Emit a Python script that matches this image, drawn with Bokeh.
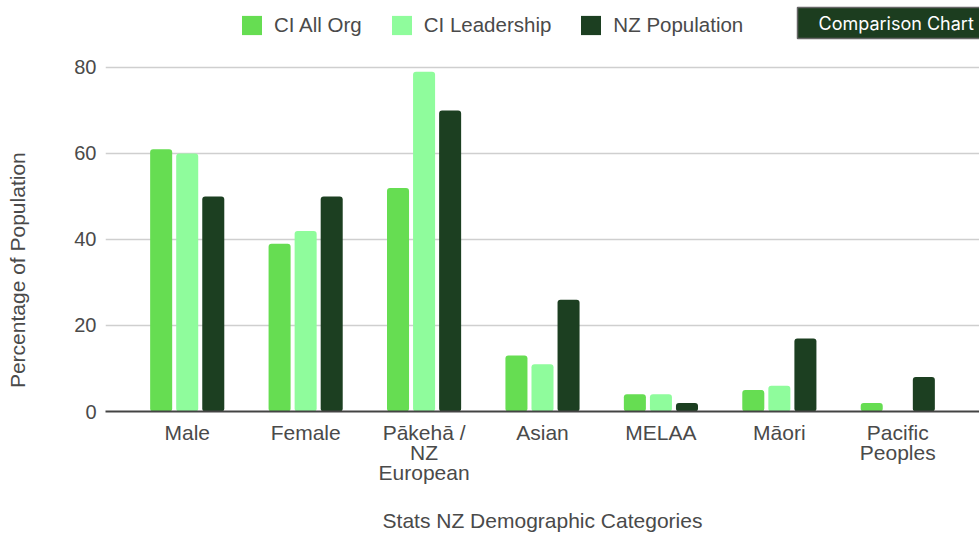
from bokeh.plotting import figure
from bokeh.models import ColumnDataSource, FactorRange, Range1d, Legend, LegendItem, Label, FixedTicker
from bokeh.transform import dodge
from bokeh.embed import file_html
from bokeh.resources import INLINE

categories = ["Male", "Female", "Pākehā /\nNZ\nEuropean", "Asian", "MELAA", "Māori", "Pacific\nPeoples"]
ci_all_org = [61, 39, 52, 13, 4, 5, 2]
ci_leadership = [60, 42, 79, 11, 4, 6, 0]
nz_population = [50, 50, 70, 26, 2, 17, 8]
series_names = ["CI All Org", "CI Leadership", "NZ Population"]
colors = ["#66dd52", "#8ffc9c", "#1c3f21"]
y_ticks = [0, 20, 40, 60, 80]

src = ColumnDataSource(dict(cat=categories, a=ci_all_org, b=ci_leadership, c=nz_population))

FONT = "Liberation Sans"
TXT = "#4a4a4a"

p = figure(
    x_range=FactorRange(factors=categories, range_padding=0.19, range_padding_units="absolute"),
    y_range=Range1d(0, 95.58),
    width=979, height=534,
    min_border_left=105, min_border_right=0, min_border_top=0, min_border_bottom=123,
    output_backend="svg", toolbar_location=None,
)
p.outline_line_color = None
p.background_fill_color = "white"

renderers = []
for col, off, color in zip(["a", "b", "c"], [-0.22, 0.0, 0.22], colors):
    r = p.vbar(x=dodge("cat", off, range=p.x_range), top=col, width=0.186, source=src,
               fill_color=color, line_color=None, border_radius=3)
    renderers.append(r)

# axes
p.xgrid.grid_line_color = None
p.ygrid.grid_line_color = "#cfcfcf"
p.ygrid.grid_line_width = 1.5
p.yaxis.ticker = FixedTicker(ticks=y_ticks)
p.yaxis.axis_line_color = None
p.yaxis.major_tick_line_color = None
p.yaxis.major_tick_out = 0
p.yaxis.major_tick_in = 0
p.yaxis.minor_tick_line_color = None
p.yaxis.minor_tick_out = 0
p.yaxis.major_label_standoff = 9
p.yaxis.major_label_text_font = FONT
p.yaxis.major_label_text_font_size = "20px"
p.yaxis.major_label_text_color = TXT
# trailing no-break spaces shift the rotated title down to where the reference has it
p.yaxis.axis_label = "Percentage of Population" + "\u00a0" * 22
p.yaxis.axis_label_text_font = FONT
p.yaxis.axis_label_text_font_size = "21px"
p.yaxis.axis_label_text_font_style = "normal"
p.yaxis.axis_label_text_color = TXT
p.yaxis.axis_label_standoff = 42

p.xaxis.axis_line_color = "#444444"
p.xaxis.axis_line_width = 2
p.xaxis.major_tick_line_color = None
p.xaxis.major_tick_out = 0
p.xaxis.major_tick_in = 0
p.xaxis.minor_tick_line_color = None
p.xaxis.major_label_standoff = 9
p.xaxis.major_label_text_font = FONT
p.xaxis.major_label_text_font_size = "21px"
p.xaxis.major_label_text_line_height = 0.88
p.xaxis.major_label_text_color = TXT
p.xaxis.axis_label = "Stats NZ Demographic Categories"
p.xaxis.axis_label_text_font = FONT
p.xaxis.axis_label_text_font_size = "21px"
p.xaxis.axis_label_text_font_style = "normal"
p.xaxis.axis_label_text_color = TXT
p.xaxis.axis_label_standoff = 22

legend = Legend(
    items=[LegendItem(label=n, renderers=[r]) for n, r in zip(series_names, renderers)],
    orientation="horizontal", location=(134, 374),
    glyph_width=25, glyph_height=24, label_standoff=10, spacing=27, padding=0, margin=0,
    border_line_color=None, background_fill_alpha=0,
    label_text_font=FONT, label_text_font_size="20.5px", label_text_color=TXT,
)
p.add_layout(legend, "center")

badge = Label(
    x=692, y=404, x_units="screen", y_units="screen", text="Comparison Chart",
    anchor="top_left", text_color="white", text_font="Inter", text_font_size="18px",
    background_fill_color="#1c3d1f", border_line_color="#666666", border_line_width=1.5,
    padding=dict(left=21, right=21, top=5, bottom=5),
)
p.add_layout(badge)

open("out.html", "w").write(file_html(p, INLINE))
